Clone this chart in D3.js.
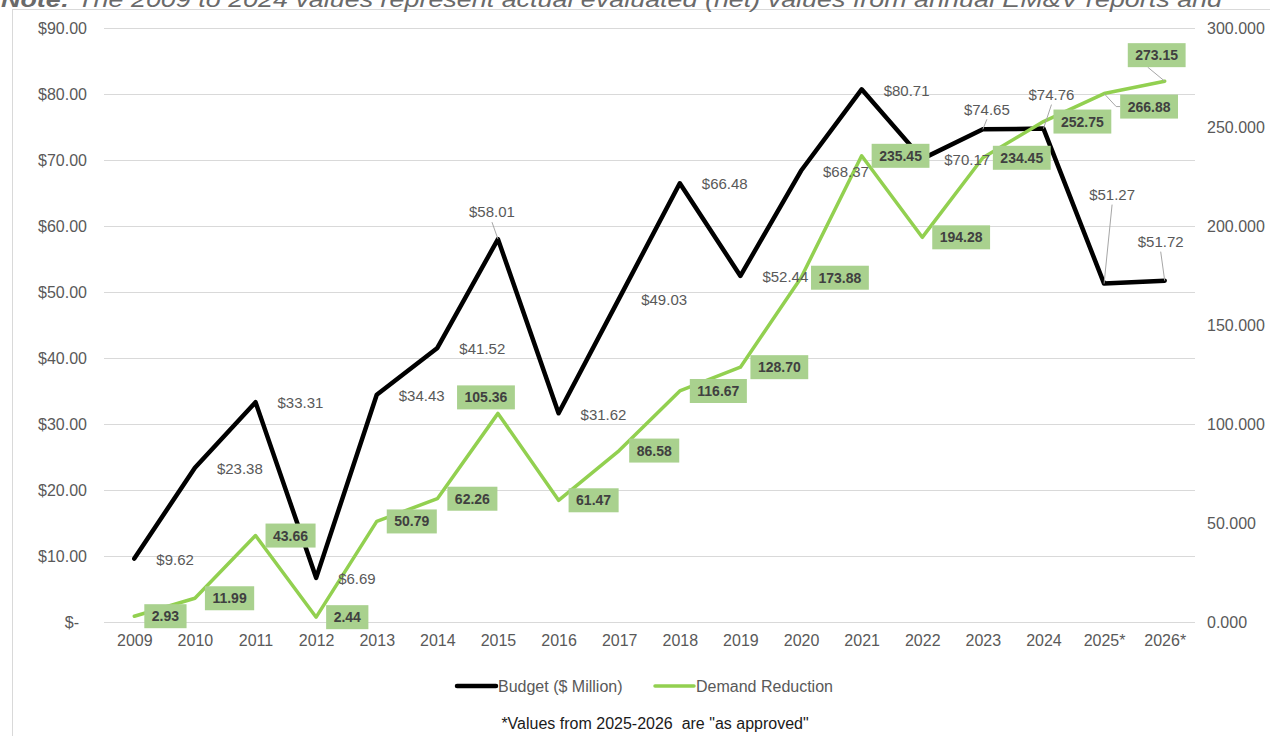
<!DOCTYPE html>
<html>
<head>
<meta charset="utf-8">
<script src="https://cdn.jsdelivr.net/npm/d3@7"></script>
<style>
  body { margin: 0; background: #fff; }
  svg { display: block; font-family: "Liberation Sans", Arial, sans-serif; }
</style>
</head>
<body>
<svg id="chart" width="1270" height="736"></svg>
<script>
// ---- data ----
const years = ['2009', '2010', '2011', '2012', '2013', '2014', '2015', '2016', '2017',
               '2018', '2019', '2020', '2021', '2022', '2023', '2024', '2025*', '2026*'];
const budget = [9.62, 23.38, 33.31, 6.69, 34.43, 41.52, 58.01, 31.62, 49.03,
                66.48, 52.44, 68.37, 80.71, 70.17, 74.65, 74.76, 51.27, 51.72];
const demand = [2.93, 11.99, 43.66, 2.44, 50.79, 62.26, 105.36, 61.47, 86.58,
                116.67, 128.70, 173.88, 235.45, 194.28, 234.45, 252.75, 266.88, 273.15];
const leftTicks = [0, 10, 20, 30, 40, 50, 60, 70, 80, 90];
const rightTicks = [0, 50, 100, 150, 200, 250, 300];
const seriesNames = ['Budget ($ Million)', 'Demand Reduction'];
const noteBold = 'Note:';
const noteText = ' The 2009 to 2024 values represent actual evaluated (net) values from annual EM&V reports and';
const footnote = '*Values from 2025-2026  are "as approved"';

// label placement: null = right of the point, otherwise [dx, dy, leader] for the label centre
const budgetLabelPos = [null, null, null, null, null, null, [-6, -27, 'line'],
  null, null, null, null, null, null, null,
  [4, -20, 'line'], [8, -34, 'line'], [8, -89, 'line'], [-4, -39, 'line']];
const demandLabelPos = [null, null, null, null, null, null, [-12, -16],
  null, null, null, null, null, null, null, null, null,
  [45, 13, 'elbow'], [-8, -26, 'line']];

const BLACK = '#000000';
const GREEN = '#92D050';
const BOX = '#A9D18E';
const GREY_TEXT = '#595959';
const GRID = '#D9D9D9';

const svg = d3.select('#chart');

// 외곽 프레임
svg.append('rect')
    .attr('x', 12.5).attr('y', 9.5)
    .attr('width', 1300).attr('height', 800)
    .attr('fill', '#fff')
    .attr('stroke', GRID);

// cut-off note at the top
const note = svg.append('text')
    .attr('x', 1).attr('y', 7)
    .attr('font-size', 22)
    .attr('font-style', 'italic')
    .attr('fill', '#6a6a6a')
    .attr('textLength', 1221)
    .attr('lengthAdjust', 'spacingAndGlyphs');
note.append('tspan').attr('font-weight', 'bold').text(noteBold);
note.append('tspan').style('white-space', 'pre').text(noteText);

// ---- scales ----
const plot = { left: 104, right: 1195, top: 28, bottom: 622 };

const x = d3.scalePoint()
    .domain(years)
    .range([plot.left, plot.right])
    .padding(0.5);

const yL = d3.scaleLinear().domain([0, 90]).range([plot.bottom, plot.top]);
const yR = d3.scaleLinear().domain([0, 300]).range([plot.bottom, plot.top]);

// gridlines
const grid = svg.append('g')
    .attr('transform', `translate(${plot.left},0)`)
    .call(d3.axisLeft(yL).tickValues(leftTicks).tickSize(-(plot.right - plot.left)).tickFormat(''));
grid.select('.domain').remove();
grid.selectAll('line').attr('stroke', GRID).attr('stroke-width', 1);

function styleAxis(g) {
    g.select('.domain').remove();
    g.attr('font-family', null).attr('font-size', null);
    g.selectAll('text')
        .attr('fill', GREY_TEXT)
        .attr('font-size', 16);
}

// left axis ($)
const leftAxis = svg.append('g')
    .attr('transform', `translate(${plot.left},0)`)
    .call(d3.axisLeft(yL)
        .tickValues(leftTicks)
        .tickSize(0)
        .tickPadding(17)
        .tickFormat(d => d === 0 ? '$-' : '$' + d3.format('.2f')(d)))
    .call(styleAxis);
leftAxis.selectAll('.tick text').filter(d => d === 0).attr('x', -25);

// right axis
svg.append('g')
    .attr('transform', `translate(${plot.right},0)`)
    .call(d3.axisRight(yR)
        .tickValues(rightTicks)
        .tickSize(0)
        .tickPadding(12)
        .tickFormat(d3.format('.3f')))
    .call(styleAxis);

// x axis
svg.append('g')
    .attr('transform', `translate(0,${plot.bottom})`)
    .call(d3.axisBottom(x).tickSize(0).tickPadding(13))
    .call(styleAxis);

// ---- lines ----
const budgetLine = d3.line()
    .x((d, i) => x(years[i]))
    .y(d => yL(d));
const demandLine = d3.line()
    .x((d, i) => x(years[i]))
    .y(d => yR(d));

svg.append('path')
    .datum(budget)
    .attr('fill', 'none')
    .attr('stroke', BLACK)
    .attr('stroke-width', 4.5)
    .attr('stroke-linejoin', 'round')
    .attr('stroke-linecap', 'round')
    .attr('d', budgetLine);

svg.append('path')
    .datum(demand)
    .attr('fill', 'none')
    .attr('stroke', GREEN)
    .attr('stroke-width', 3.5)
    .attr('stroke-linejoin', 'round')
    .attr('stroke-linecap', 'round')
    .attr('d', demandLine);

// ---- budget labels ----
const budgetLabels = svg.append('g');
budget.forEach((v, i) => {
    const px = x(years[i]);
    const py = yL(v);
    const pos = budgetLabelPos[i];
    const label = budgetLabels.append('text')
        .attr('fill', GREY_TEXT)
        .attr('font-size', 15)
        .attr('dy', '0.35em')
        .text('$' + d3.format('.2f')(v));
    if (!pos) {
        label.attr('x', px + 22).attr('y', py + 1).attr('text-anchor', 'start');
    } else {
        const lx = px + pos[0];
        const ly = py + pos[1];
        label.attr('x', lx).attr('y', ly).attr('text-anchor', 'middle');
        if (pos[2]) {
            budgetLabels.append('line')
                .attr('x1', lx).attr('y1', ly + 10)
                .attr('x2', px).attr('y2', py)
                .attr('stroke', '#A6A6A6')
                .attr('stroke-width', 1);
        }
    }
});

// ---- demand labels (green boxes) ----
const demandLabels = svg.append('g');
demand.forEach((v, i) => {
    const px = x(years[i]);
    const py = yR(v);
    const pos = demandLabelPos[i];
    const g = demandLabels.append('g');
    const box = g.append('rect').attr('fill', BOX);
    const label = g.append('text')
        .attr('fill', '#404040')
        .attr('font-size', 14)
        .attr('font-weight', 'bold')
        .attr('text-anchor', 'middle')
        .attr('dy', '0.36em')
        .text(d3.format('.2f')(v));
    const w = label.node().getComputedTextLength() + 15;
    const h = 24;
    let cx, cy;
    if (!pos) {
        cx = px + 10 + w / 2;
        cy = py;
    } else {
        cx = px + pos[0];
        cy = py + pos[1];
    }
    box.attr('x', cx - w / 2).attr('y', cy - h / 2).attr('width', w).attr('height', h);
    label.attr('x', cx).attr('y', cy);
    if (pos && pos[2] === 'elbow') {
        g.insert('polyline', 'rect')
            .attr('points', [[px, py], [cx - w / 2 - 4, cy], [cx - w / 2, cy]].join(' '))
            .attr('fill', 'none')
            .attr('stroke', '#A6A6A6')
            .attr('stroke-width', 1);
    } else if (pos && pos[2] === 'line') {
        g.insert('line', 'rect')
            .attr('x1', cx - 9).attr('y1', cy + h / 2)
            .attr('x2', px).attr('y2', py)
            .attr('stroke', '#A6A6A6')
            .attr('stroke-width', 1);
    }
});

// ---- legend ----
const legend = svg.append('g').attr('transform', 'translate(0,686)');
const legendItems = [
    { name: seriesNames[0], color: BLACK, width: 4.5, x: 457 },
    { name: seriesNames[1], color: GREEN, width: 3.5, x: 655 }
];
legendItems.forEach(item => {
    legend.append('line')
        .attr('x1', item.x).attr('x2', item.x + 39)
        .attr('y1', 0).attr('y2', 0)
        .attr('stroke', item.color)
        .attr('stroke-width', item.width)
        .attr('stroke-linecap', 'round');
    legend.append('text')
        .attr('x', item.x + 41)
        .attr('y', 0)
        .attr('dy', '0.35em')
        .attr('fill', GREY_TEXT)
        .attr('font-size', 16)
        .text(item.name);
});

// footnote
svg.append('text')
    .attr('x', 655)
    .attr('y', 723)
    .attr('dy', '0.35em')
    .attr('text-anchor', 'middle')
    .attr('fill', '#1a1a1a')
    .attr('font-size', 16)
    .style('white-space', 'pre')
    .text(footnote);
</script>
</body>
</html>
